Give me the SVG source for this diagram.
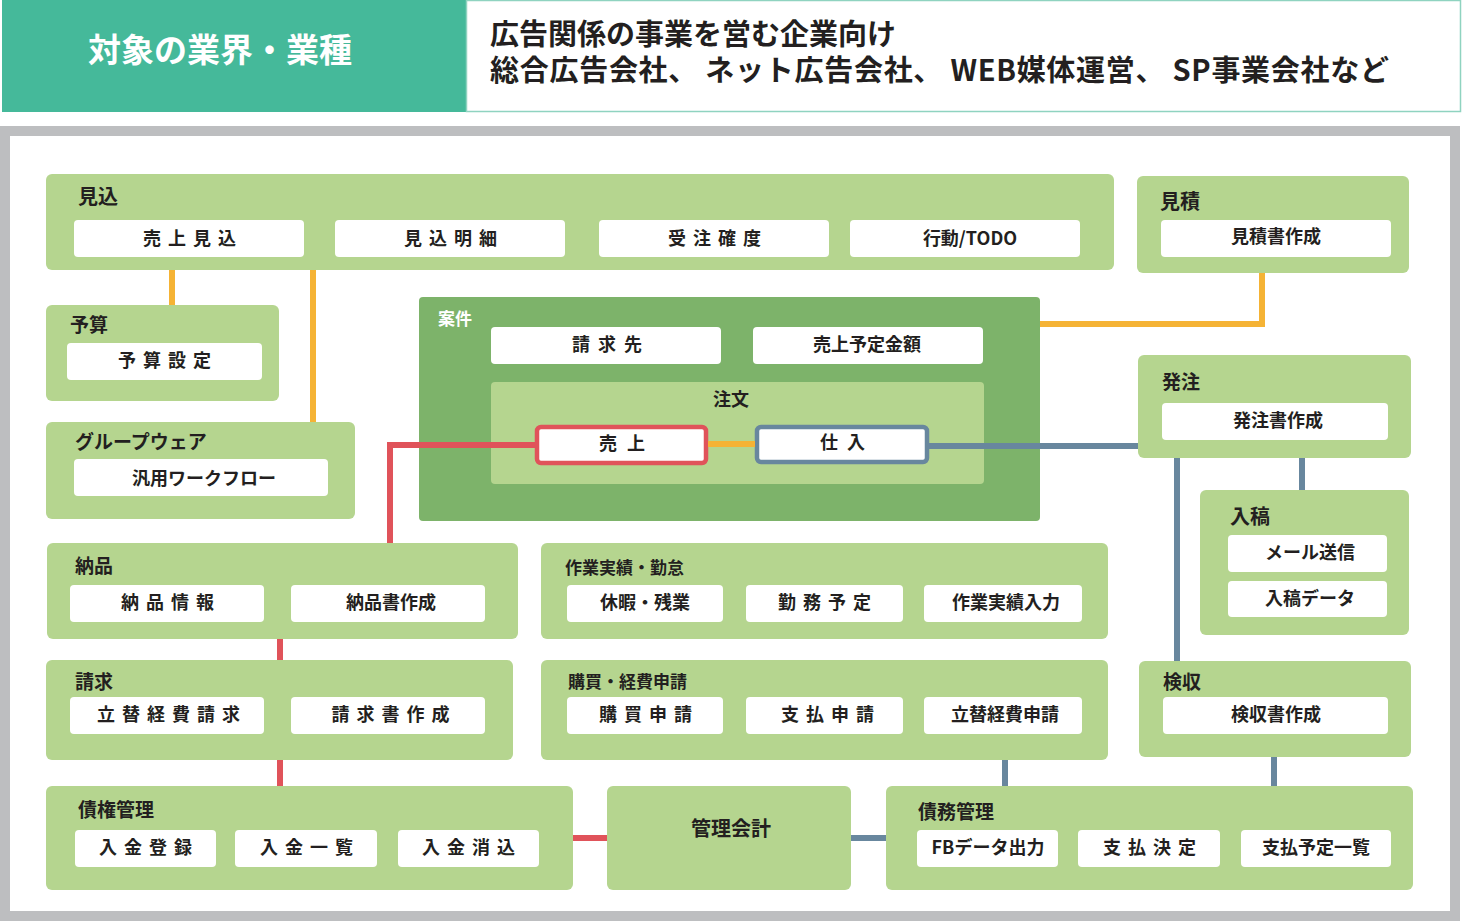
<svg xmlns="http://www.w3.org/2000/svg" width="1462" height="921" viewBox="0 0 1462 921">
<style>
text{font-family:"Noto Sans CJK JP","Noto Sans",sans-serif;font-weight:bold;fill:#231F20}
.box{fill:#B5D58F}
.sub{fill:#FFFFFF}
.t{font-size:19px}
.s{font-size:18px;text-anchor:middle}
.sp{letter-spacing:7px}
.c{fill:none;stroke-width:6;stroke-linejoin:miter}
.o{stroke:#F5B335}
.r{stroke:#E0535A}
.b{stroke:#68879E}
</style>
<rect x="0" y="0" width="1462" height="921" fill="#FFFFFF"/>
<g id="header">
<rect x="2" y="0" width="464" height="112" fill="#45B99A"/>
<rect x="466.5" y="0.5" width="994" height="111" fill="#FFFFFF" stroke="#8FD3C0" stroke-width="1.5"/>
<text x="220" y="62" style="font-size:33px;fill:#FFFFFF;text-anchor:middle">対象の業界・業種</text>
<text x="490" y="45" style="font-size:29px" textLength="406" lengthAdjust="spacingAndGlyphs">広告関係の事業を営む企業向け</text>
<text x="490" y="81" style="font-size:29px" textLength="899" lengthAdjust="spacing">総合広告会社、 ネット広告会社、 WEB媒体運営、 SP事業会社など</text>
</g>
<rect x="5" y="131" width="1450" height="785" fill="#FFFFFF" stroke="#BDBEC0" stroke-width="10"/>
<g id="mikomi">
<rect class="box" x="46" y="174" width="1068" height="96" rx="6"/>
<text class="t" x="78" y="204" style="font-size:20px">見込</text>
<rect class="sub" x="74" y="220" width="230" height="37" rx="4"/>
<text class="s sp" x="193" y="245">売上見込</text>
<rect class="sub" x="335" y="220" width="230" height="37" rx="4"/>
<text class="s sp" x="454" y="245">見込明細</text>
<rect class="sub" x="599" y="220" width="230" height="37" rx="4"/>
<text class="s sp" x="718" y="245">受注確度</text>
<rect class="sub" x="850" y="220" width="230" height="37" rx="4"/>
<text class="s" x="970" y="245">行動/TODO</text>
</g>
<g id="mitsumori">
<rect class="box" x="1137" y="176" width="272" height="97" rx="6"/>
<text class="t" x="1160" y="209" style="font-size:20px">見積</text>
<rect class="sub" x="1161" y="220" width="230" height="37" rx="4"/>
<text class="s" x="1276" y="243">見積書作成</text>
</g>
<g id="yosan">
<rect class="box" x="46" y="305" width="233" height="96" rx="6"/>
<text class="t" x="70" y="332">予算</text>
<rect class="sub" x="67" y="343" width="195" height="37" rx="4"/>
<text class="s sp" x="168" y="367">予算設定</text>
</g>
<g id="groupware">
<rect class="box" x="46" y="422" width="309" height="97" rx="6"/>
<text class="t" x="75" y="449">グループウェア</text>
<rect class="sub" x="74" y="459" width="254" height="37" rx="4"/>
<text class="s" x="204" y="485">汎用ワークフロー</text>
</g>
<g id="anken">
<rect x="419" y="297" width="621" height="224" rx="4" fill="#7DB36A"/>
<text class="t" x="438" y="325" style="fill:#FFFFFF;font-size:17px">案件</text>
<rect class="sub" x="491" y="327" width="230" height="37" rx="4"/>
<text class="s" x="611" y="351" style="letter-spacing:8px">請求先</text>
<rect class="sub" x="753" y="327" width="230" height="37" rx="4"/>
<text class="s" x="867" y="351">売上予定金額</text>
<g id="chumon">
<rect class="box" x="491" y="382" width="493" height="102" rx="4"/>
<text class="s" x="731" y="406">注文</text>
<g id="uriage">
<rect x="537" y="427" width="169" height="36" rx="4" fill="#FFFFFF" stroke="#E0535A" stroke-width="4.5"/>
<text class="s" x="627" y="450" style="letter-spacing:10px">売上</text>
</g>
<g id="shiire">
<rect x="757" y="427" width="170" height="35" rx="4" fill="#FFFFFF" stroke="#68879E" stroke-width="4.5"/>
<text class="s" x="847" y="449" style="letter-spacing:9px">仕入</text>
</g>
</g>
</g>
<g id="hatchu">
<rect class="box" x="1138" y="355" width="273" height="103" rx="6"/>
<text class="t" x="1162" y="389">発注</text>
<rect class="sub" x="1162" y="403" width="226" height="37" rx="4"/>
<text class="s" x="1278" y="427">発注書作成</text>
</g>
<g id="nyuko">
<rect class="box" x="1200" y="490" width="209" height="145" rx="6"/>
<text class="t" x="1230" y="524" style="font-size:20px">入稿</text>
<rect class="sub" x="1228" y="535" width="159" height="37" rx="4"/>
<text class="s" x="1310" y="559">メール送信</text>
<rect class="sub" x="1228" y="581" width="159" height="36" rx="4"/>
<text class="s" x="1310" y="605">入稿データ</text>
</g>
<g id="nohin">
<rect class="box" x="47" y="543" width="471" height="96" rx="6"/>
<text class="t" x="75" y="573">納品</text>
<rect class="sub" x="70" y="585" width="194" height="37" rx="4"/>
<text class="s sp" x="171" y="609">納品情報</text>
<rect class="sub" x="291" y="585" width="194" height="37" rx="4"/>
<text class="s" x="391" y="609">納品書作成</text>
</g>
<g id="sagyo">
<rect class="box" x="541" y="543" width="567" height="96" rx="6"/>
<text class="t" x="565" y="574" style="font-size:17px">作業実績・勤怠</text>
<rect class="sub" x="567" y="585" width="156" height="37" rx="4"/>
<text class="s" x="645" y="609">休暇・残業</text>
<rect class="sub" x="746" y="585" width="157" height="37" rx="4"/>
<text class="s sp" x="828" y="609">勤務予定</text>
<rect class="sub" x="924" y="585" width="158" height="37" rx="4"/>
<text class="s" x="1006" y="609">作業実績入力</text>
</g>
<g id="seikyu">
<rect class="box" x="46" y="660" width="467" height="100" rx="6"/>
<text class="t" x="75" y="689">請求</text>
<rect class="sub" x="70" y="697" width="194" height="37" rx="4"/>
<text class="s sp" x="172" y="721">立替経費請求</text>
<rect class="sub" x="291" y="697" width="194" height="37" rx="4"/>
<text class="s sp" x="394" y="721">請求書作成</text>
</g>
<g id="kobai">
<rect class="box" x="541" y="660" width="567" height="100" rx="6"/>
<text class="t" x="568" y="688" style="font-size:17px">購買・経費申請</text>
<rect class="sub" x="567" y="697" width="156" height="37" rx="4"/>
<text class="s sp" x="649" y="721">購買申請</text>
<rect class="sub" x="746" y="697" width="157" height="37" rx="4"/>
<text class="s sp" x="831" y="721">支払申請</text>
<rect class="sub" x="924" y="697" width="158" height="37" rx="4"/>
<text class="s" x="1005" y="721">立替経費申請</text>
</g>
<g id="kenshu">
<rect class="box" x="1139" y="661" width="272" height="96" rx="6"/>
<text class="t" x="1163" y="689">検収</text>
<rect class="sub" x="1163" y="697" width="225" height="37" rx="4"/>
<text class="s" x="1276" y="721">検収書作成</text>
</g>
<g id="saiken">
<rect class="box" x="46" y="786" width="527" height="104" rx="6"/>
<text class="t" x="78" y="817">債権管理</text>
<rect class="sub" x="75" y="830" width="141" height="37" rx="4"/>
<text class="s sp" x="149" y="854">入金登録</text>
<rect class="sub" x="235" y="830" width="142" height="37" rx="4"/>
<text class="s sp" x="310" y="854">入金一覧</text>
<rect class="sub" x="398" y="830" width="141" height="37" rx="4"/>
<text class="s sp" x="472" y="854">入金消込</text>
</g>
<g id="kanri">
<rect class="box" x="607" y="786" width="244" height="104" rx="6"/>
<text x="731" y="836" style="font-size:20px;text-anchor:middle">管理会計</text>
</g>
<g id="saimu">
<rect class="box" x="886" y="786" width="527" height="104" rx="6"/>
<text class="t" x="918" y="819">債務管理</text>
<rect class="sub" x="917" y="830" width="141" height="37" rx="4"/>
<text class="s" x="988" y="854">FBデータ出力</text>
<rect class="sub" x="1078" y="830" width="142" height="37" rx="4"/>
<text class="s sp" x="1153" y="854">支払決定</text>
<rect class="sub" x="1241" y="830" width="150" height="37" rx="4"/>
<text class="s" x="1316" y="854">支払予定一覧</text>
</g>
<g id="connectors">
<path class="c o" d="M172 270V305"/>
<path class="c o" d="M313 270V422"/>
<path class="c o" d="M1040 324H1262V273"/>
<path class="c o" d="M708 444H755"/>
<path class="c r" d="M535 445H390V543"/>
<path class="c r" d="M280 639V660"/>
<path class="c r" d="M280 760V786"/>
<path class="c r" d="M573 838H607"/>
<path class="c b" d="M929 446H1138"/>
<path class="c b" d="M1177 458V661"/>
<path class="c b" d="M1302 458V490"/>
<path class="c b" d="M1274 757V786"/>
<path class="c b" d="M1005 760V786"/>
<path class="c b" d="M851 838H886"/>
</g>
</svg>
